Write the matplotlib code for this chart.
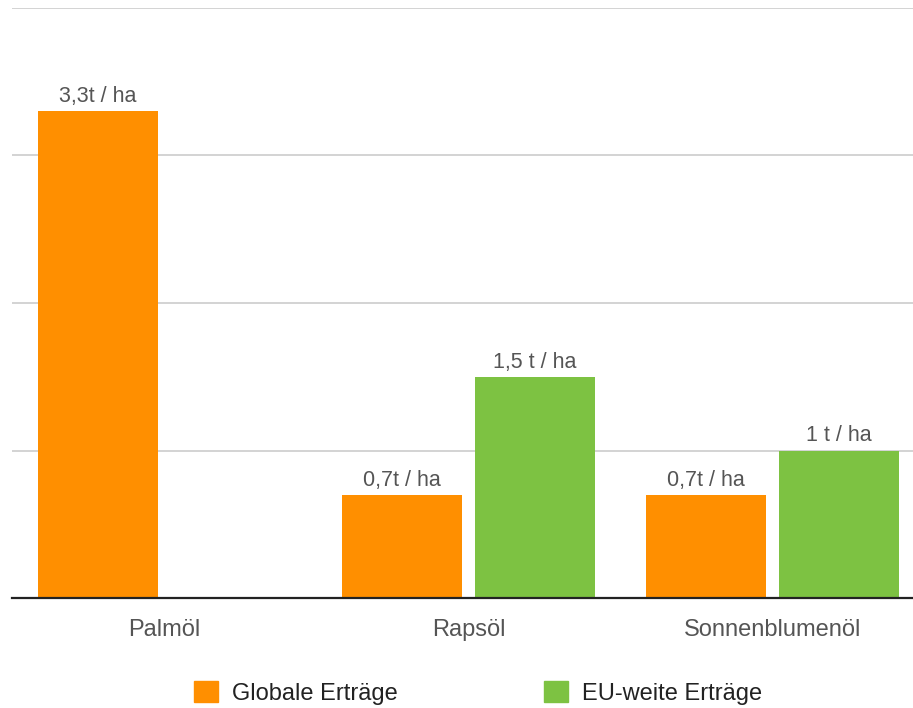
import matplotlib
matplotlib.use("Agg")
import matplotlib.pyplot as plt
from matplotlib.patches import Patch
import numpy as np

# Erträge in t/ha
categories = ["Palmöl", "Rapsöl", "Sonnenblumenöl"]
global_values = [3.3, 0.7, 0.7]
eu_values = [np.nan, 1.5, 1.0]
global_labels = ["3,3t / ha", "0,7t / ha", "0,7t / ha"]
eu_labels = ["", "1,5 t / ha", "1 t / ha"]
series_names = ["Globale Erträge", "EU-weite Erträge"]

ORANGE = "#FF8F00"
GREEN = "#7DC242"
TEXT = "#555555"

plt.rcParams['font.family'] = ['Liberation Sans', 'DejaVu Sans']

fig = plt.figure(figsize=(9.13, 7.08), dpi=100)
ax = fig.add_axes([12 / 913, 110 / 708, 901 / 913, 590 / 708])

x = np.arange(len(categories))
w = 0.395
off = 0.219
b1 = ax.bar(x - off, global_values, w, color=ORANGE, zorder=2)
b2 = ax.bar(x + off, eu_values, w, color=GREEN, zorder=2)
ax.bar_label(b1, labels=global_labels, padding=3, fontsize=15.5, color=TEXT)
ax.bar_label(b2, labels=eu_labels, padding=3, fontsize=15.5, color=TEXT)

ax.set_xlim(-0.502, 2.462)
ax.set_ylim(0, 4)
ax.set_yticks([1, 2, 3, 4])
ax.yaxis.grid(True, color="#cccccc", linewidth=1.2, zorder=0)
ax.tick_params(axis="y", length=0, labelleft=False)
ax.set_xticks(x)
ax.set_xticklabels(categories, fontsize=17, color=TEXT)
ax.tick_params(axis="x", length=0, pad=15)
for s in ["top", "right", "left"]:
    ax.spines[s].set_visible(False)
ax.spines["bottom"].set_color("#222222")
ax.spines["bottom"].set_linewidth(1.6)
ax.spines["bottom"].set_zorder(3)

handles = [Patch(color=ORANGE), Patch(color=GREEN)]
fig.legend(handles, series_names, loc="center", bbox_to_anchor=(478 / 913, 1 - 693 / 708),
           ncol=2, frameon=False, fontsize=17, handlelength=1.0, handleheight=1.0,
           columnspacing=6.2, handletextpad=0.6, labelcolor="#222222")

fig.savefig("out.png", dpi=100)
